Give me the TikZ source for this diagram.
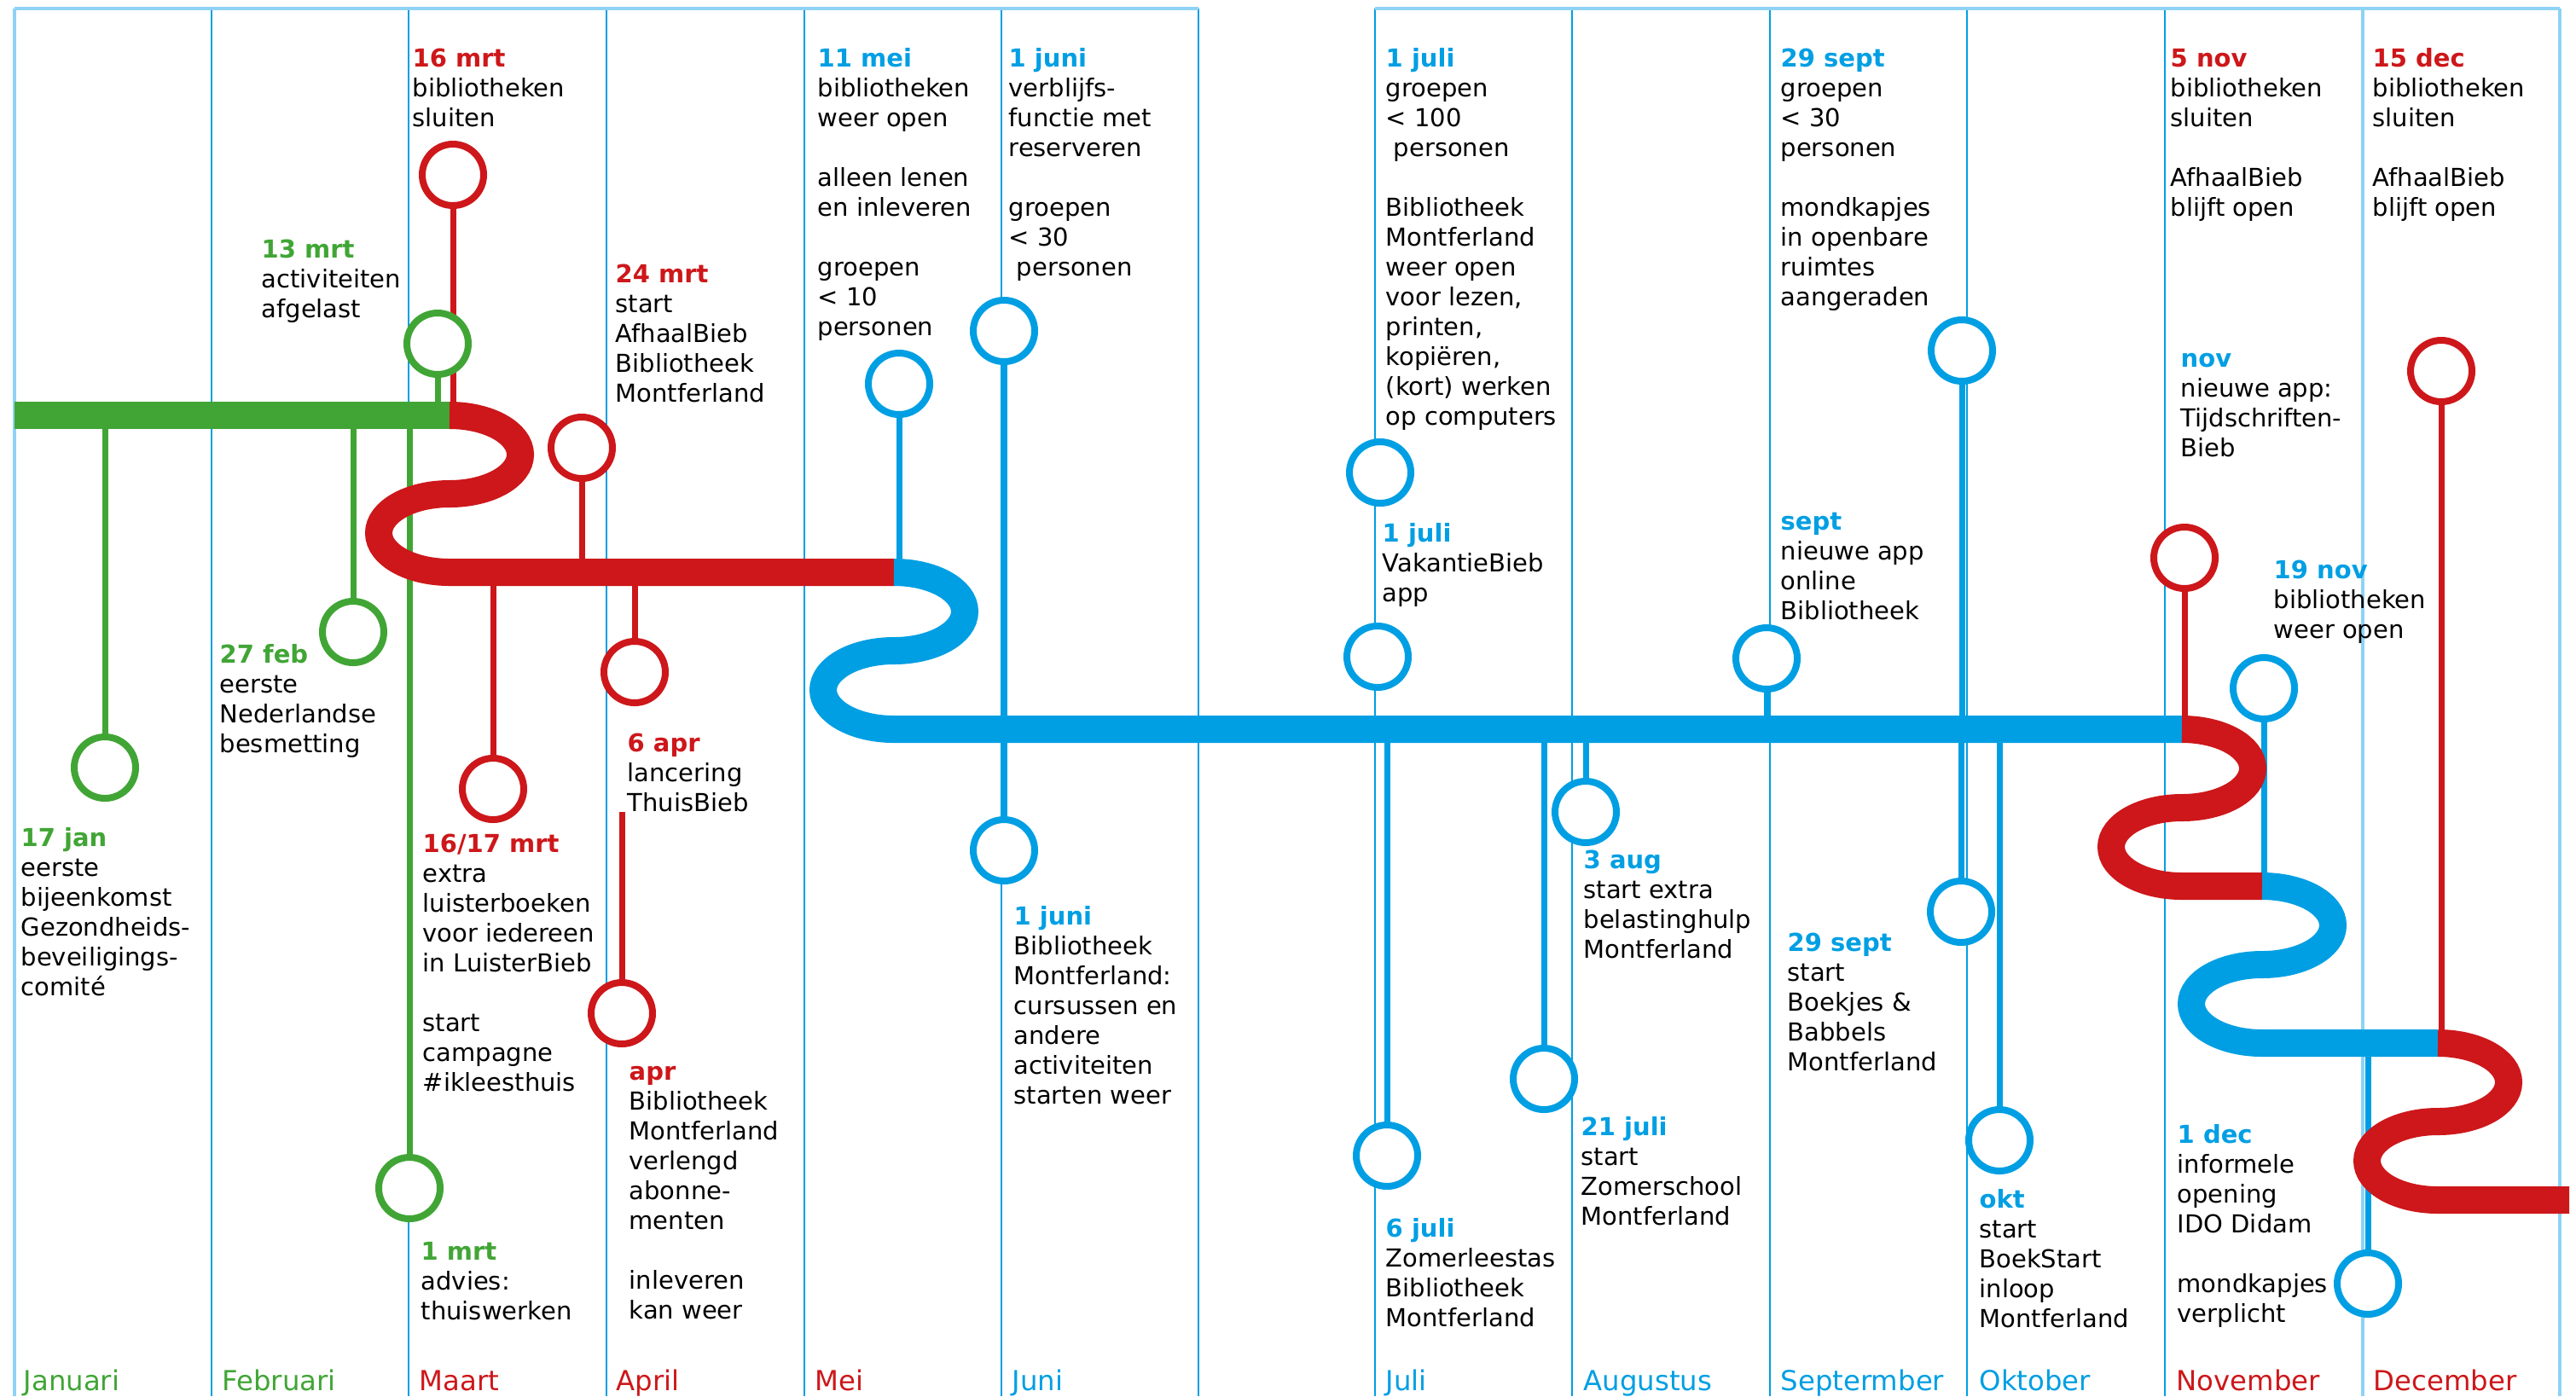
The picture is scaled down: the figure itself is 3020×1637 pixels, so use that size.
\documentclass[tikz,border=0pt]{standalone}
\usepackage{fontspec}
\setmainfont{DejaVu Sans}
\definecolor{cgreen}{HTML}{41A536}
\definecolor{cred}{HTML}{CD171A}
\definecolor{cblue}{HTML}{009FE3}
\definecolor{clight}{HTML}{8ED3F5}
\newcommand{\dte}[2]{\textcolor{#1}{\textbf{#2}}}
\newcommand{\blk}[1]{\begin{tabular}[t]{@{}l@{}}#1\end{tabular}}
\pgfdeclarelayer{grid}
\pgfdeclarelayer{stems}
\pgfdeclarelayer{bars}
\pgfsetlayers{grid,stems,bars,main}
\begin{document}
\begin{tikzpicture}[x=0.1mm,y=-0.1mm,
  mline/.style={cblue, line width=0.25mm},
  bline/.style={clight, line width=0.35mm},
  bar/.style={line width=3.2mm, line cap=butt},
  stem/.style={line width=0.7mm},
  ev/.style={circle, draw, fill=white, line width=0.8mm, inner sep=0pt, minimum size=7.2mm},
  txt/.style={anchor=base west, inner sep=0pt, font=\fontsize{8.25pt}{9.96pt}\selectfont},
  mon/.style={anchor=base west, inner sep=0pt, font=\fontsize{9.2pt}{11pt}\selectfont}
]
\useasboundingbox (0,0) rectangle (3020,1637);

\begin{pgfonlayer}{grid}
\fill[white] (0,0) rectangle (3020,1637);
\foreach \x in {248,479,711,943,1174,1405,1612,1843,2075,2306,2538}
  \draw[mline] (\x,10) -- (\x,1637);
\foreach \x in {17,2770,3001}
  \draw[bline] (\x,10) -- (\x,1637);
\draw[bline] (17,10) -- (1405,10);
\draw[bline] (1612,10) -- (3001,10);
\end{pgfonlayer}

% month labels
\node[mon, text=cgreen] (mJan) at (27,1630) {Januari};
\node[mon, text=cgreen] (mFeb) at (260,1630) {Februari};
\node[mon, text=cred] (mMaa) at (491,1630) {Maart};
\node[mon, text=cred] (mApr) at (722,1630) {April};
\node[mon, text=cred] (mMei) at (955,1630) {Mei};
\node[mon, text=cblue] (mJun) at (1186,1630) {Juni};
\node[mon, text=cblue] (mJul) at (1624,1630) {Juli};
\node[mon, text=cblue] (mAug) at (1856,1630) {Augustus};
\node[mon, text=cblue] (mSep) at (2087,1630) {Septermber};
\node[mon, text=cblue] (mOkt) at (2320,1630) {Oktober};
\node[mon, text=cred] (mNov) at (2551,1630) {November};
\node[mon, text=cred] (mDec) at (2782,1630) {December};

% bar coordinates
\coordinate (gbar) at (0,487);
\coordinate (rbar) at (0,671);
\coordinate (bbar) at (0,855);
\coordinate (b2bar) at (0,1039);
\coordinate (r3bar) at (0,1223);
\coordinate (aprtop) at (729,952);

% circles
\node[ev, draw=cgreen] (c17jan) at (123,900) {};
\node[ev, draw=cgreen] (c27feb) at (414,741) {};
\node[ev, draw=cgreen] (c13mrt) at (513,403) {};
\node[ev, draw=cgreen] (c1mrt) at (480,1393) {};
\node[ev, draw=cred] (c16mrt) at (531,205) {};
\node[ev, draw=cred] (c24mrt) at (682,525) {};
\node[ev, draw=cred] (c1617mrt) at (578,925) {};
\node[ev, draw=cred] (c6apr) at (744,788) {};
\node[ev, draw=cred] (capr) at (729,1188) {};
\node[ev, draw=cblue] (c11mei) at (1054,450) {};
\node[ev, draw=cblue] (c1junia) at (1177,388) {};
\node[ev, draw=cblue] (c1junib) at (1177,997) {};
\node[ev, draw=cblue] (c1julia) at (1618,554) {};
\node[ev, draw=cblue] (c1julib) at (1615,770) {};
\node[ev, draw=cblue] (c6juli) at (1626,1355) {};
\node[ev, draw=cblue] (c21juli) at (1810,1265) {};
\node[ev, draw=cblue] (c3aug) at (1859,952) {};
\node[ev, draw=cblue] (csept) at (2071,772) {};
\node[ev, draw=cblue] (c29septa) at (2300,411) {};
\node[ev, draw=cblue] (c29septb) at (2299,1069) {};
\node[ev, draw=cblue] (cokt) at (2344,1337) {};
\node[ev, draw=cred] (c5nov) at (2561,654) {};
\node[ev, draw=cblue] (c19nov) at (2654,807) {};
\node[ev, draw=cblue] (c1dec) at (2776,1505) {};
\node[ev, draw=cred] (c15dec) at (2862,435) {};

\begin{pgfonlayer}{stems}
\draw[stem, cgreen] (c17jan) -- (c17jan |- gbar);
\draw[stem, cgreen] (c27feb) -- (c27feb |- gbar);
\draw[stem, cgreen] (c13mrt) -- (c13mrt |- gbar);
\draw[stem, cgreen] (c1mrt) -- (c1mrt |- gbar);
\draw[stem, cred] (c16mrt) -- (c16mrt |- gbar);
\draw[stem, cred] (c24mrt) -- (c24mrt |- rbar);
\draw[stem, cred] (c1617mrt) -- (c1617mrt |- rbar);
\draw[stem, cred] (c6apr) -- (c6apr |- rbar);
\draw[stem, cred] (capr) -- (aprtop);
\draw[stem, cblue] (c11mei) -- (c11mei |- rbar);
\draw[stem, cblue] (c1junia) -- (c1junia |- bbar);
\draw[stem, cblue] (c1junib) -- (c1junib |- bbar);
\draw[stem, cblue] (c6juli) -- (c6juli |- bbar);
\draw[stem, cblue] (c21juli) -- (c21juli |- bbar);
\draw[stem, cblue] (c3aug) -- (c3aug |- bbar);
\draw[stem, cblue] (csept) -- (csept |- bbar);
\draw[stem, cblue] (c29septa) -- (c29septa |- bbar);
\draw[stem, cblue] (c29septb) -- (c29septb |- bbar);
\draw[stem, cblue] (cokt) -- (cokt |- bbar);
\draw[stem, cred] (c5nov) -- (c5nov |- bbar);
\draw[stem, cblue] (c19nov) -- (c19nov |- b2bar);
\draw[stem, cblue] (c1dec) -- (c1dec |- r3bar);
\draw[stem, cred] (c15dec) -- (c15dec |- r3bar);
\end{pgfonlayer}

\begin{pgfonlayer}{bars}
\draw[bar, cgreen] (17,487) -- (527,487);
\draw[bar, cred] (527,487)
  .. controls +(45.8,0) and +(0,-25.4) .. ++(83,46)
  .. controls +(0,25.4) and +(45.8,0) .. ++(-83,46)
  .. controls +(-45.8,0) and +(0,-25.4) .. ++(-83,46)
  .. controls +(0,25.4) and +(-45.8,0) .. ++(83,46)
  -- (1048,671);
\draw[bar, cblue] (1048,671)
  .. controls +(45.8,0) and +(0,-25.4) .. ++(83,46)
  .. controls +(0,25.4) and +(45.8,0) .. ++(-83,46)
  .. controls +(-45.8,0) and +(0,-25.4) .. ++(-83,46)
  .. controls +(0,25.4) and +(-45.8,0) .. ++(83,46)
  -- (2558,855);
\draw[bar, cred] (2558,855)
  .. controls +(45.8,0) and +(0,-25.4) .. ++(83,46)
  .. controls +(0,25.4) and +(45.8,0) .. ++(-83,46)
  .. controls +(-45.8,0) and +(0,-25.4) .. ++(-83,46)
  .. controls +(0,25.4) and +(-45.8,0) .. ++(83,46)
  -- (2652,1039);
\draw[bar, cblue] (2652,1039)
  .. controls +(45.8,0) and +(0,-25.4) .. ++(83,46)
  .. controls +(0,25.4) and +(45.8,0) .. ++(-83,46)
  .. controls +(-45.8,0) and +(0,-25.4) .. ++(-83,46)
  .. controls +(0,25.4) and +(-45.8,0) .. ++(83,46)
  -- (2858,1223);
\draw[bar, cred] (2858,1223)
  .. controls +(45.8,0) and +(0,-25.4) .. ++(83,46)
  .. controls +(0,25.4) and +(45.8,0) .. ++(-83,46)
  .. controls +(-45.8,0) and +(0,-25.4) .. ++(-83,46)
  .. controls +(0,25.4) and +(-45.8,0) .. ++(83,46)
  -- (3012,1407);
\end{pgfonlayer}

% texts
\node[txt] (t17jan) at (24,992) {\blk{\dte{cgreen}{17 jan}\\eerste\\bijeenkomst\\Gezondheids-\\beveiligings-\\comité}};
\node[txt] (t27feb) at (257,777) {\blk{\dte{cgreen}{27 feb}\\eerste\\Nederlandse\\besmetting}};
\node[txt] (t13mrt) at (306,302) {\blk{\dte{cgreen}{13 mrt}\\activiteiten\\afgelast}};
\node[txt] (t16mrt) at (483,78) {\blk{\dte{cred}{16 mrt}\\bibliotheken\\sluiten}};
\node[txt] (t24mrt) at (721,331) {\blk{\dte{cred}{24 mrt}\\start\\AfhaalBieb\\Bibliotheek\\Montferland}};
\node[txt] (t1617mrt) at (495,999) {\blk{\dte{cred}{16/17 mrt}\\extra\\luisterboeken\\voor iedereen\\in LuisterBieb\\[9.96pt]start\\campagne\\\#ikleesthuis}};
\node[txt] (t1mrt) at (493,1477) {\blk{\dte{cgreen}{1 mrt}\\advies:\\thuiswerken}};
\node[txt] (t6apr) at (735,881) {\blk{\dte{cred}{6 apr}\\lancering\\ThuisBieb}};
\node[txt] (tapr) at (737,1266) {\blk{\dte{cred}{apr}\\Bibliotheek\\Montferland\\verlengd\\abonne-\\menten\\[9.96pt]inleveren\\kan weer}};
\node[txt] (t11mei) at (958,78) {\blk{\dte{cblue}{11 mei}\\bibliotheken\\weer open\\[9.96pt]alleen lenen\\en inleveren\\[9.96pt]groepen\\< 10\\personen}};
\node[txt] (t1junia) at (1182,78) {\blk{\dte{cblue}{1 juni}\\verblijfs-\\functie met\\reserveren\\[9.96pt]groepen\\< 30\\\ personen}};
\node[txt] (t1junib) at (1188,1084) {\blk{\dte{cblue}{1 juni}\\Bibliotheek\\Montferland:\\cursussen en\\andere\\activiteiten\\starten weer}};
\node[txt] (t1julia) at (1624,78) {\blk{\dte{cblue}{1 juli}\\groepen\\< 100\\\ personen\\[9.96pt]Bibliotheek\\Montferland\\weer open\\voor lezen,\\printen,\\kopiëren,\\(kort) werken\\op computers}};
\node[txt] (t1julib) at (1620,635) {\blk{\dte{cblue}{1 juli}\\VakantieBieb\\app}};
\node[txt] (t6juli) at (1624,1450) {\blk{\dte{cblue}{6 juli}\\Zomerleestas\\Bibliotheek\\Montferland}};
\node[txt] (t21juli) at (1853,1331) {\blk{\dte{cblue}{21 juli}\\start\\Zomerschool\\Montferland}};
\node[txt] (t3aug) at (1856,1018) {\blk{\dte{cblue}{3 aug}\\start extra\\belastinghulp\\Montferland}};
\node[txt] (t29septa) at (2087,78) {\blk{\dte{cblue}{29 sept}\\groepen\\< 30\\personen\\[9.96pt]mondkapjes\\in openbare\\ruimtes\\aangeraden}};
\node[txt] (tsept) at (2087,621) {\blk{\dte{cblue}{sept}\\nieuwe app\\online\\Bibliotheek}};
\node[txt] (t29septb) at (2095,1115) {\blk{\dte{cblue}{29 sept}\\start\\Boekjes \&\\Babbels\\Montferland}};
\node[txt] (tokt) at (2320,1416) {\blk{\dte{cblue}{okt}\\start\\BoekStart\\inloop\\Montferland}};
\node[txt] (t5nov) at (2544,78) {\blk{\dte{cred}{5 nov}\\bibliotheken\\sluiten\\[9.96pt]AfhaalBieb\\blijft open}};
\node[txt] (tnov) at (2556,430) {\blk{\dte{cblue}{nov}\\nieuwe app:\\Tijdschriften-\\Bieb}};
\node[txt] (t19nov) at (2665,678) {\blk{\dte{cblue}{19 nov}\\bibliotheken\\weer open}};
\node[txt] (t1dec) at (2552,1340) {\blk{\dte{cblue}{1 dec}\\informele\\opening\\IDO Didam\\[9.96pt]mondkapjes\\verplicht}};
\node[txt] (t15dec) at (2781,78) {\blk{\dte{cred}{15 dec}\\bibliotheken\\sluiten\\[9.96pt]AfhaalBieb\\blijft open}};
\end{tikzpicture}
\end{document}
